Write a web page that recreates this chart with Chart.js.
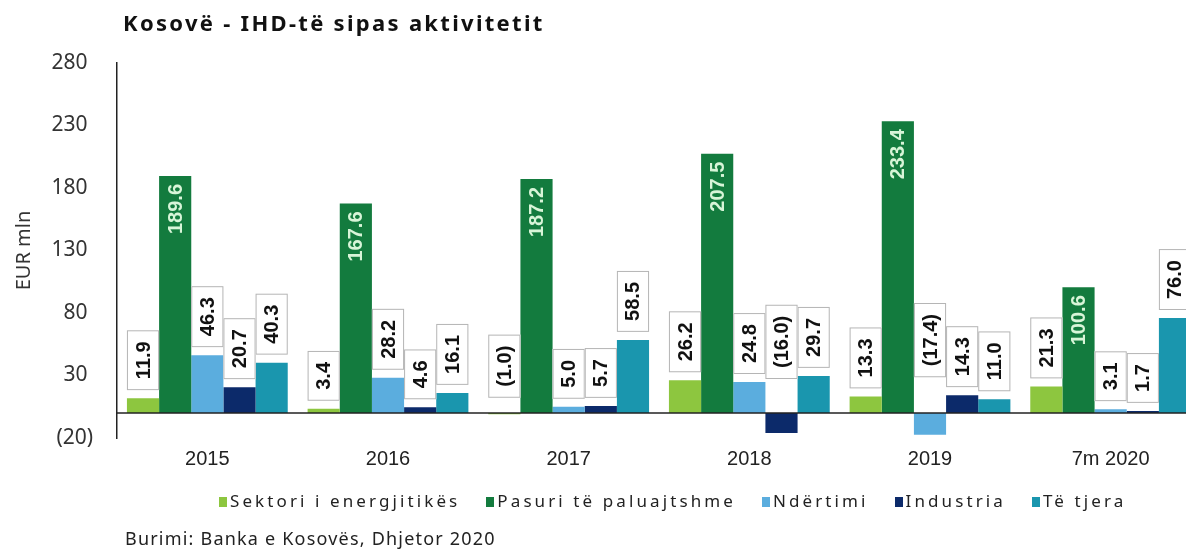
<!DOCTYPE html>
<html lang="sq">
<head>
<meta charset="UTF-8">
<title>Kosovë - IHD-të sipas aktivitetit</title>
<script src="https://cdn.jsdelivr.net/npm/chart.js"></script>
<style>
    html, body {
        margin: 0;
        padding: 0;
        background: #fff;
        overflow: hidden;
    }
    #wrap {
        position: relative;
        width: 1202px;
        height: 552px;
    }
    #title {
        position: absolute;
        left: 123px;
        top: 8px;
        line-height: 28px;
        font-family: "Noto Sans", "DejaVu Sans", sans-serif;
        font-weight: bold;
        font-size: 22px;
        letter-spacing: 2.3px;
        color: #111;
    }
    #legend {
        position: absolute;
        left: 219px;
        top: 489px;
        display: flex;
        gap: 26px;
        font-family: "Noto Sans", "DejaVu Sans", sans-serif;
        font-size: 17px;
        letter-spacing: 3.1px;
        line-height: 24px;
        color: #222;
    }
    #legend span.box {
        display: inline-block;
        width: 8px;
        height: 10px;
        margin-right: 3px;
    }
    #source {
        position: absolute;
        left: 125px;
        top: 526px;
        line-height: 24px;
        font-family: "Noto Sans", "DejaVu Sans", sans-serif;
        font-size: 18px;
        letter-spacing: 1.2px;
        color: #222;
    }
</style>
</head>
<body>
<div id="wrap">
    <canvas id="chart"></canvas>
    <div id="title">Kosovë - IHD-të sipas aktivitetit</div>
    <div id="legend"></div>
    <div id="source">Burimi: Banka e Kosovës, Dhjetor 2020</div>
</div>

<script>
    // data (EUR mln)
    const years = ['2015', '2016', '2017', '2018', '2019', '7m 2020'];
    const seriesNames = ['Sektori i energjitikës', 'Pasuri të paluajtshme', 'Ndërtimi', 'Industria', 'Të tjera'];
    const seriesColors = ['#8dc63f', '#137b3e', '#5badde', '#0c2a6a', '#1a96ae'];

    const energy   = [11.9, 3.4, -1.0, 26.2, 13.3, 21.3];
    const realEst  = [189.6, 167.6, 187.2, 207.5, 233.4, 100.6];
    const constr   = [46.3, 28.2, 5.0, 24.8, -17.4, 3.1];
    const industry = [20.7, 4.6, 5.7, -16.0, 14.3, 1.7];
    const other    = [40.3, 16.1, 58.5, 29.7, 11.0, 76.0];

    const seriesValues = [energy, realEst, constr, industry, other];

    const sansFont = '"Noto Sans", "DejaVu Sans", sans-serif';

    function fmt(v) {
        return v < 0 ? '(' + Math.abs(v).toFixed(1) + ')' : v.toFixed(1);
    }

    // horizontal line at zero + rotated value labels
    const labelPlugin = {
        id: 'valueLabels',
        afterDatasetsDraw(chart) {
            const ctx = chart.ctx;
            const area = chart.chartArea;
            const y0 = chart.scales.y.getPixelForValue(0);

            ctx.save();
            ctx.strokeStyle = '#222';
            ctx.lineWidth = 1.5;
            ctx.beginPath();
            ctx.moveTo(area.left, y0);
            ctx.lineTo(area.right + 20, y0);
            ctx.stroke();

            ctx.font = 'bold 20px "Liberation Sans", Arial, sans-serif';
            ctx.textBaseline = 'middle';

            chart.data.datasets.forEach((ds, i) => {
                const meta = chart.getDatasetMeta(i);
                meta.data.forEach((bar, j) => {
                    const v = ds.data[j];
                    const text = fmt(v);
                    const tw = ctx.measureText(text).width;

                    if (i === 1) {
                        // inside the top of the tall green bars
                        ctx.save();
                        ctx.translate(bar.x, bar.y + 8);
                        ctx.rotate(-Math.PI / 2);
                        ctx.textAlign = 'right';
                        ctx.fillStyle = '#d8f5d8';
                        ctx.fillText(text, 0, 1);
                        ctx.restore();
                        return;
                    }

                    const bw = bar.width;
                    const bh = tw + 22;
                    let bottom;
                    if (v >= 0) {
                        bottom = bar.y - 8;
                    } else {
                        bottom = y0 - (bar.y - y0) - 14;
                    }
                    ctx.fillStyle = '#fff';
                    ctx.fillRect(bar.x - bw / 2, bottom - bh, bw, bh);
                    ctx.strokeStyle = '#b5b5b5';
                    ctx.lineWidth = 1;
                    ctx.strokeRect(bar.x - bw / 2 + 0.5, bottom - bh + 0.5, bw - 1, bh - 1);

                    ctx.save();
                    ctx.translate(bar.x, bottom - bh / 2);
                    ctx.rotate(-Math.PI / 2);
                    ctx.textAlign = 'center';
                    ctx.fillStyle = '#111';
                    ctx.fillText(text, 0, 1);
                    ctx.restore();
                });
            });
            ctx.restore();
        }
    };

    const datasets = seriesNames.map((name, i) => ({
        label: name,
        data: seriesValues[i],
        backgroundColor: seriesColors[i],
        borderWidth: 0,
        categoryPercentage: 0.89,
        barPercentage: 1.0
    }));

    new Chart(document.getElementById('chart'), {
        type: 'bar',
        data: { labels: years, datasets: datasets },
        options: {
            responsive: true,
            maintainAspectRatio: false,
            animation: false,
            layout: {
                padding: { top: 63, bottom: 72, left: 0, right: 1 }
            },
            plugins: {
                legend: { display: false },
                tooltip: { enabled: false }
            },
            scales: {
                x: {
                    grid: { display: false, drawTicks: false },
                    border: { display: false },
                    ticks: {
                        padding: 9,
                        color: '#222',
                        font: { family: '"Liberation Sans", Arial, sans-serif', size: 20 }
                    }
                },
                y: {
                    min: -20,
                    max: 280,
                    afterFit(scale) { scale.width = 117; },
                    grid: { display: false, drawTicks: false },
                    border: { display: true, color: '#222', width: 1.5 },
                    ticks: {
                        stepSize: 50,
                        padding: 24,
                        color: '#333',
                        font: { family: sansFont, size: 21 },
                        callback: v => v < 0 ? '(' + Math.abs(v) + ')' : v + ' '
                    },
                    title: {
                        display: true,
                        text: 'EUR mln',
                        color: '#333',
                        padding: 12,
                        font: { family: sansFont, size: 20 }
                    }
                }
            }
        },
        plugins: [labelPlugin]
    });

    // legend below the plot
    const legend = document.getElementById('legend');
    legend.innerHTML = seriesNames.map((name, i) =>
        `<div><span class="box" style="background:${seriesColors[i]}"></span>${name}</div>`
    ).join('');
</script>
</body>
</html>
